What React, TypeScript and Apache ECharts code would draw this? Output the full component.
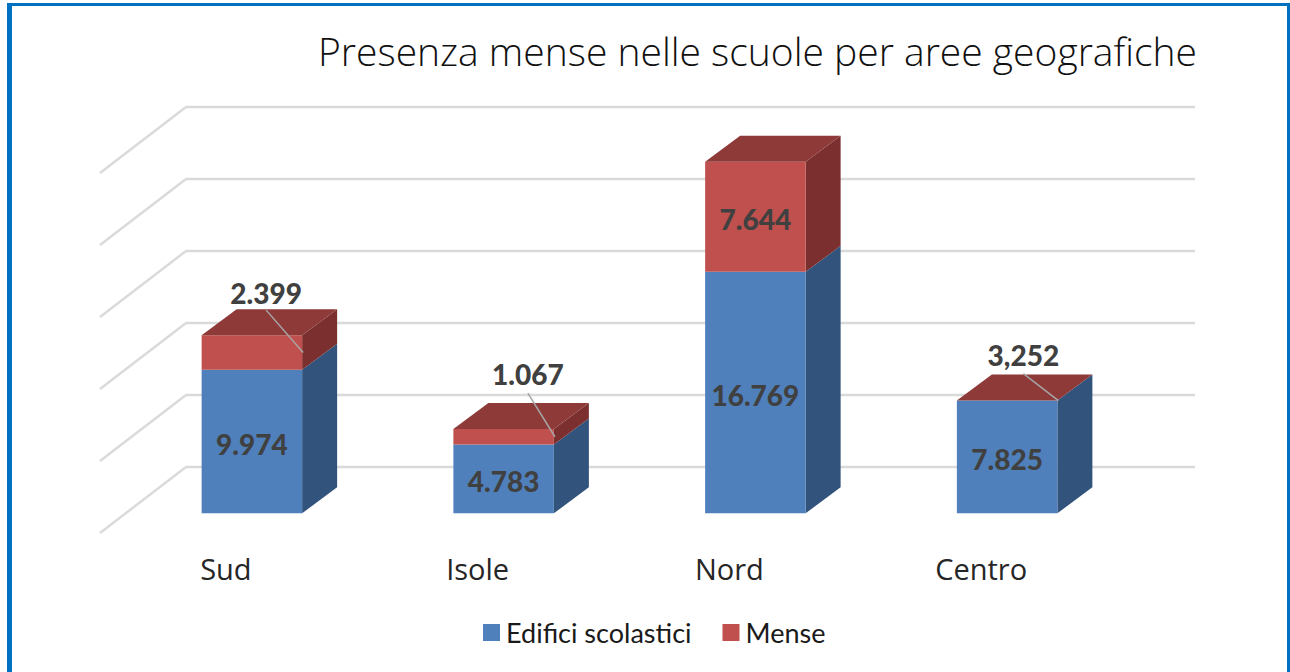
import React, { useEffect, useRef } from "react";
import * as echarts from "echarts";

const categories = ["Sud", "Isole", "Nord", "Centro"];
const edifici = [9974, 4783, 16769, 7825];
const mense = [2399, 1067, 7644, 3.252];
const edificiLabels = ["9.974", "4.783", "16.769", "7.825"];
const menseLabels = ["2.399", "1.067", "7.644", "3,252"];
const gridTicks = [0, 5000, 10000, 15000, 20000, 25000];

const TITLE = "Presenza mense nelle scuole per aree geografiche";
const S_EDIFICI = "Edifici scolastici";
const S_MENSE = "Mense";

// 3D projection of the chart box
const WALL_DX = 86;
const WALL_DY = -66;
const BAR_SHIFT_X = 26;
const BAR_SHIFT_Y = -19.7;
const BAR_W = 100.5;
const DEPTH_X = 35;
const DEPTH_Y = -26;

// outside labels with a leader line: [label dx, label dy, leader start dy], from the top right front corner
const calloutLayout: Record<number, number[]> = {
  0: [-36, -42, -25],
  1: [-26, -55, -36],
  3: [-34, -46, -27],
};

const BLUE = { front: "#4F80BC", top: "#3F6796", side: "#32537B" };
const RED = { front: "#BF504D", top: "#8D3A39", side: "#7B302F" };
const LABEL_FONT = { fontFamily: "Lato", fontWeight: 900, fontSize: 28, fill: "#404040" } as const;

function renderBar(colors: typeof BLUE, labels: string[], callouts: boolean) {
  return (params: any, api: any) => {
    const i = api.value(0) as number;
    const p0 = api.coord([i, api.value(1)]);
    const p1 = api.coord([i, api.value(2)]);
    const cx = p0[0] + BAR_SHIFT_X;
    const xl = cx - BAR_W / 2;
    const xr = cx + BAR_W / 2;
    const yb = p0[1] + BAR_SHIFT_Y;
    const yt = p1[1] + BAR_SHIFT_Y;
    const children: any[] = [
      {
        type: "polygon",
        shape: { points: [[xr, yb], [xr + DEPTH_X, yb + DEPTH_Y], [xr + DEPTH_X, yt + DEPTH_Y], [xr, yt]] },
        style: { fill: colors.side },
      },
      { type: "rect", shape: { x: xl, y: yt, width: BAR_W, height: yb - yt }, style: { fill: colors.front } },
    ];
    if (callouts) {
      children.push({
        type: "polygon",
        shape: { points: [[xl, yt], [xl + DEPTH_X, yt + DEPTH_Y], [xr + DEPTH_X, yt + DEPTH_Y], [xr, yt]] },
        style: { fill: colors.top },
      });
    }
    const co = callouts ? calloutLayout[i] : undefined;
    if (co) {
      const midY = (yb + yt) / 2;
      children.push({
        type: "line",
        shape: { x1: xr + co[0], y1: yt + co[2], x2: xr + 1, y2: midY },
        style: { stroke: "#A6A6A6", lineWidth: 1.5 },
      });
      children.push({
        type: "text",
        x: xr + co[0],
        y: yt + co[1],
        style: { text: labels[i], ...LABEL_FONT, align: "center", verticalAlign: "middle" },
      });
    } else {
      children.push({
        type: "text",
        x: cx,
        y: (yb + yt) / 2 + 2.5,
        style: { text: labels[i], ...LABEL_FONT, align: "center", verticalAlign: "middle" },
      });
    }
    return { type: "group", children };
  };
}

function renderWallLine(params: any, api: any) {
  const p = api.coord([0, api.value(0)]);
  const x0 = params.coordSys.x as number;
  return {
    type: "line",
    shape: { x1: x0, y1: p[1], x2: x0 + WALL_DX, y2: p[1] + WALL_DY },
    style: { stroke: "#DADADA", lineWidth: 2.4 },
  };
}

export default function App() {
  const ref = useRef<HTMLDivElement>(null);
  useEffect(() => {
    document.body.style.margin = "0";
    const chart = echarts.init(ref.current!, undefined, { renderer: "svg" });
    const stackEdifici = edifici.map((v, i) => [i, 0, v]);
    const stackMense = mense.map((v, i) => [i, edifici[i], edifici[i] + v]);
    const hiddenAxis = { show: false };
    chart.setOption({
      animation: false,
      backgroundColor: "#ffffff",
      title: {
        text: TITLE,
        right: 93,
        top: 31,
        padding: 0,
        textStyle: { fontFamily: "Open Sans", fontWeight: 300, fontSize: 39, color: "#111111" },
      },
      legend: {
        top: 614,
        left: 478,
        icon: "rect",
        itemWidth: 17,
        itemHeight: 17,
        itemGap: 31,
        data: [S_EDIFICI, S_MENSE],
        textStyle: { fontFamily: "Lato", fontSize: 27, color: "#1a1a1a", padding: [0, 0, 0, 1] },
      },
      grid: [
        { left: 186, top: 107, width: 1009, height: 360 },
        { left: 100, top: 173, width: 1007, height: 360 },
      ],
      xAxis: [
        { type: "category", gridIndex: 0, data: categories, ...hiddenAxis },
        {
          type: "category",
          gridIndex: 1,
          data: categories,
          axisLine: { show: false },
          axisTick: { show: false },
          axisLabel: { margin: 21, fontFamily: "Open Sans", fontSize: 29, color: "#262626" },
        },
      ],
      yAxis: [
        {
          type: "value",
          gridIndex: 0,
          min: 0,
          max: 25000,
          interval: 5000,
          axisLabel: { show: false },
          axisLine: { show: false },
          axisTick: { show: false },
          splitLine: { show: true, lineStyle: { color: "#DADADA", width: 2.4 } },
        },
        { type: "value", gridIndex: 1, min: 0, max: 25000, interval: 5000, ...hiddenAxis },
      ],
      graphic: [
        { type: "rect", shape: { x: 7, y: 3, width: 5, height: 669 }, style: { fill: "#0070C0" }, z: 100 },
        { type: "rect", shape: { x: 7, y: 3, width: 1283, height: 3 }, style: { fill: "#0070C0" }, z: 100 },
        { type: "rect", shape: { x: 1287, y: 3, width: 3, height: 669 }, style: { fill: "#0070C0" }, z: 100 },
      ],
      series: [
        {
          type: "custom",
          name: "wall",
          xAxisIndex: 1,
          yAxisIndex: 1,
          data: gridTicks.map((v) => [v]),
          encode: { y: 0 },
          renderItem: renderWallLine,
          silent: true,
        },
        {
          type: "custom",
          name: S_EDIFICI,
          xAxisIndex: 1,
          yAxisIndex: 1,
          itemStyle: { color: BLUE.front },
          data: stackEdifici,
          encode: { x: 0, y: [1, 2] },
          renderItem: renderBar(BLUE, edificiLabels, false),
          z: 3,
        },
        {
          type: "custom",
          name: S_MENSE,
          xAxisIndex: 1,
          yAxisIndex: 1,
          itemStyle: { color: RED.front },
          data: stackMense,
          encode: { x: 0, y: [1, 2] },
          renderItem: renderBar(RED, menseLabels, true),
          z: 4,
        },
      ],
    });
    return () => chart.dispose();
  }, []);
  return <div ref={ref} style={{ position: "absolute", left: 0, top: 0, width: 1290, height: 672 }} />;
}
